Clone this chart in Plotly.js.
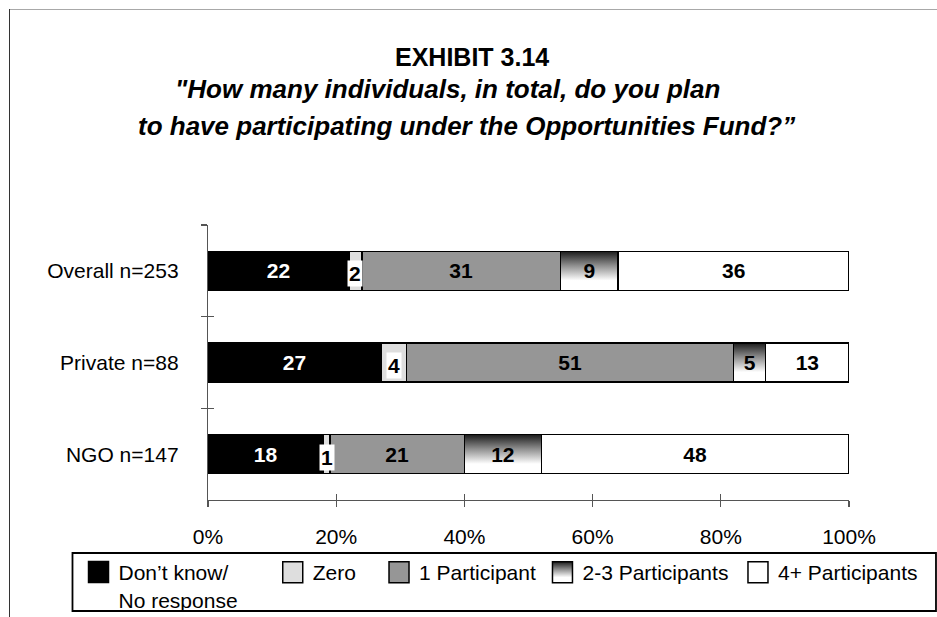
<!DOCTYPE html>
<html>
<head>
<meta charset="utf-8">
<script src="https://cdn.plot.ly/plotly-3.0.1.min.js"></script>
<style>
html,body{margin:0;padding:0;background:#fff;}
#wrap{position:relative;width:937px;height:617px;overflow:hidden;}
#chart{width:937px;height:617px;}
#frameTop{position:absolute;left:9px;top:9px;width:928px;height:0;border-top:1px solid #a8a8a8;pointer-events:none;}
#frameLeft{position:absolute;left:9px;top:9px;width:0;height:608px;border-left:1px solid #333;pointer-events:none;}
</style>
</head>
<body>
<div id="wrap">
  <div id="chart"></div>
  <div id="frameTop"></div>
  <div id="frameLeft"></div>
</div>
<script>
// ---- data ----
const categories = ['Overall n=253', 'Private n=88', 'NGO n=147'];
const seriesNames = ['Don’t know/<br>No response', 'Zero', '1 Participant', '2-3 Participants', '4+ Participants'];
const dontKnow       = [22, 27, 18];
const zero           = [2, 4, 1];
const oneParticipant = [31, 51, 21];
const twoThree       = [9, 5, 12];
const fourPlus       = [36, 13, 48];
const xTickVals = [0, 20, 40, 60, 80, 100];
const xTickText = ['0%', '20%', '40%', '60%', '80%', '100%'];
const titleLines = ['EXHIBIT 3.14', '"How many individuals, in total, do you plan', 'to have participating under the Opportunities Fund?”'];

// ---- style ----
const FONT = 'Liberation Sans, Arial, sans-serif';
const colors = ['#000000', '#dedede', '#969696', '#7a7a7a', '#ffffff'];
const textColors = ['#ffffff', '#000000', '#000000', '#000000', '#000000'];
const series = [dontKnow, zero, oneParticipant, twoThree, fourPlus];
const legendIds = ['legend', 'legend2', 'legend3', 'legend4', 'legend5'];
const legendX = [-0.202, 0.101, 0.2668, 0.5218, 0.8268];

const traces = series.map((vals, i) => ({
  type: 'bar',
  orientation: 'h',
  name: seriesNames[i],
  x: vals,
  y: categories,
  marker: {color: colors[i], line: {color: '#000', width: 1.5}},
  text: i === 1 ? undefined : vals.map(v => String(v)),
  textposition: i === 1 ? 'none' : 'inside',
  insidetextanchor: 'middle',
  constraintext: 'none',
  textfont: {family: FONT, size: 21, color: textColors[i], weight: 'bold'},
  legend: legendIds[i],
  hoverinfo: 'skip'
}));

// labels for the thin "Zero" segments, with white boxes
const zeroAnnotations = categories.map((c, j) => ({
  x: dontKnow[j] + zero[j] / 2,
  y: c,
  xref: 'x', yref: 'y',
  text: '<b>' + zero[j] + '</b>',
  showarrow: false,
  bgcolor: '#ffffff',
  borderpad: 1,
  yshift: -3,
  font: {family: FONT, size: 21, color: '#000'}
}));

const titleAnnotations = [
  {text: '<b>' + titleLines[0] + '</b>', x: 0.4119, y: 1.611, size: 25},
  {text: '<b><i>' + titleLines[1] + '</i></b>', x: 0.3744, y: 1.4945, size: 26},
  {text: '<b><i>' + titleLines[2] + '</i></b>', x: 0.4025, y: 1.36, size: 26}
].map(t => ({
  text: t.text, x: t.x, y: t.y, xref: 'paper', yref: 'paper',
  xanchor: 'center', yanchor: 'middle', showarrow: false,
  font: {family: FONT, size: t.size, color: '#000'}
}));

const layout = {
  width: 937, height: 617,
  margin: {l: 208, r: 88, t: 225, b: 117, pad: 0, autoexpand: false},
  paper_bgcolor: '#ffffff',
  plot_bgcolor: '#ffffff',
  barmode: 'stack',
  bargap: 0.576,
  font: {family: FONT, size: 21, color: '#000'},
  xaxis: {
    range: [0, 100], tickvals: xTickVals, ticktext: xTickText,
    showline: true, linecolor: '#555', linewidth: 1.2,
    ticks: 'outside', ticklen: 6, tickcolor: '#555', tickwidth: 1.2,
    ticklabelstandoff: 12,
    showgrid: false, zeroline: false,
    tickfont: {family: FONT, size: 21, color: '#000'},
    fixedrange: true
  },
  xaxis2: {
    overlaying: 'x', anchor: 'y', range: [0, 100], tickvals: xTickVals,
    ticks: 'inside', ticklen: 6, tickcolor: '#555', tickwidth: 1.2,
    showticklabels: false, showline: false, showgrid: false, zeroline: false
  },
  yaxis: {
    type: 'category', categoryorder: 'array', categoryarray: categories,
    range: [2.5, -0.5],
    tickson: 'boundaries',
    showline: true, linecolor: '#555', linewidth: 1.2,
    ticks: 'outside', ticklen: 6, tickcolor: '#555', tickwidth: 1.2,
    ticklabelstandoff: 24,
    showgrid: false, zeroline: false,
    tickfont: {family: FONT, size: 21, color: '#000'},
    fixedrange: true
  },
  yaxis2: {
    overlaying: 'y', anchor: 'x', range: [2.5, -0.5],
    tickmode: 'linear', tick0: 0.5, dtick: 1,
    ticks: 'inside', ticklen: 6, tickcolor: '#555', tickwidth: 1.2,
    showticklabels: false, showline: false, showgrid: false, zeroline: false
  },
  annotations: titleAnnotations.concat(zeroAnnotations),
  shapes: [{
    type: 'rect', xref: 'paper', yref: 'paper',
    x0: -0.2114, x1: 1.1357, y0: -0.1927, y1: -0.4036,
    line: {color: '#000', width: 1.8}, fillcolor: 'rgba(0,0,0,0)', layer: 'above'
  }],
  showlegend: true
};

legendIds.forEach((id, i) => {
  layout[id] = {
    x: legendX[i], y: -0.189, xanchor: 'left', yanchor: 'top',
    orientation: 'v', bgcolor: 'rgba(0,0,0,0)', borderwidth: 0,
    itemwidth: 30, valign: 'top',
    font: {family: FONT, size: 21, color: '#000'},
    traceorder: 'normal'
  };
});

// invisible helper trace so the overlay axes are registered
traces.push({type: 'scatter', x: [], y: [], xaxis: 'x2', yaxis: 'y2', showlegend: false, hoverinfo: 'skip'});

Plotly.newPlot('chart', traces, layout, {displayModeBar: false, staticPlot: true}).then(gd => {
  const svgNS = 'http://www.w3.org/2000/svg';
  const mainSvg = gd.querySelector('.main-svg');
  let defs = mainSvg.querySelector('defs');
  if (!defs) { defs = document.createElementNS(svgNS, 'defs'); mainSvg.insertBefore(defs, mainSvg.firstChild); }
  const grad = document.createElementNS(svgNS, 'linearGradient');
  grad.setAttribute('id', 'grad23');
  grad.setAttribute('x1', '0'); grad.setAttribute('y1', '0');
  grad.setAttribute('x2', '0'); grad.setAttribute('y2', '1');
  [['0', '#1c1c1c'], ['0.35', '#8a8a8a'], ['0.75', '#ffffff'], ['1', '#ffffff']].forEach(s => {
    const st = document.createElementNS(svgNS, 'stop');
    st.setAttribute('offset', s[0]); st.setAttribute('stop-color', s[1]);
    grad.appendChild(st);
  });
  defs.appendChild(grad);

  const barTraces = gd.querySelectorAll('.barlayer .trace');
  if (barTraces[3]) barTraces[3].querySelectorAll('path').forEach(p => { p.style.fill = 'url(#grad23)'; });

  gd.querySelectorAll('g.traces').forEach(g => {
    g.querySelectorAll('.legendpoints path').forEach(p => {
      p.setAttribute('d', 'M10,10.5H-10V-10.5H10Z');
      p.style.strokeWidth = '1.5px';
      p.style.stroke = '#000';
      if (g.textContent.indexOf('2-3') >= 0) p.style.fill = 'url(#grad23)';
    });
  });
});
</script>
</body>
</html>
